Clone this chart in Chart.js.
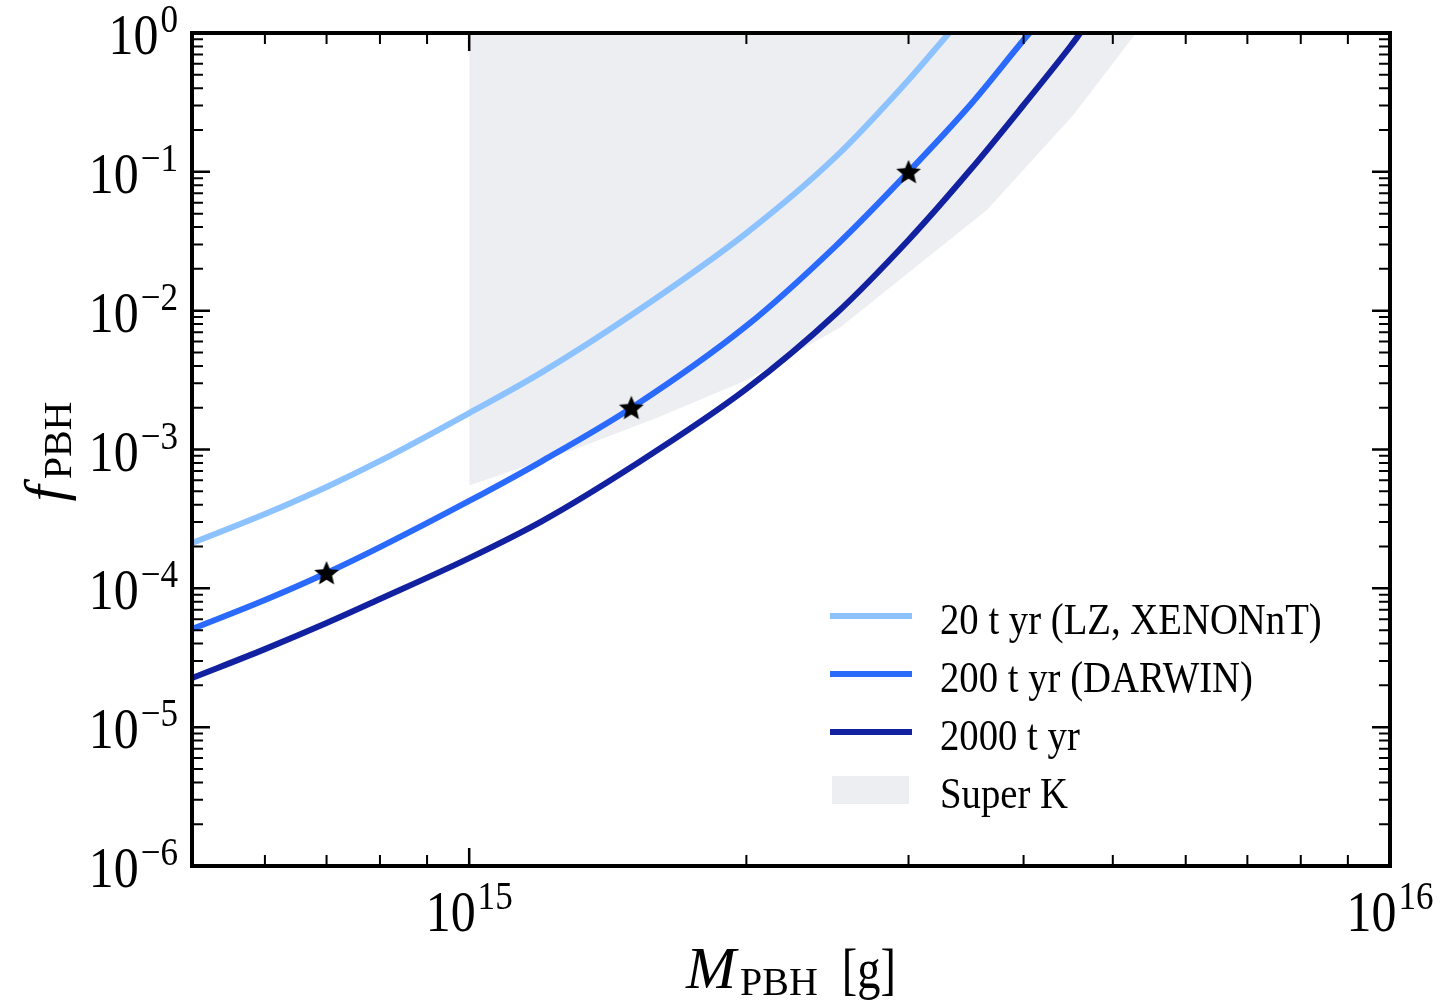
<!DOCTYPE html>
<html>
<head>
<meta charset="utf-8">
<script src="https://cdn.jsdelivr.net/npm/chart.js@4"></script>
<style>
  html, body { margin: 0; padding: 0; background: #fff; }
  canvas { display: block; }
</style>
</head>
<body>
<canvas id="chart" width="1444" height="1006"></canvas>
<script>
// PBH mass [g] and f_PBH reach for each exposure
const massLZ = [5e14, 6e14, 7e14, 8e14, 1e15, 1.2e15, 1.5e15, 2e15, 2.5e15, 3e15, 3.32e15];
const fLZ = [2.12e-4, 3.43e-4, 5.37e-4, 8.27e-4, 1.83e-3, 3.61e-3, 9.3e-3, 3.62e-2, 0.128, 0.459, 1.0];

const massDarwin = [5e14, 6e14, 7e14, 8e14, 1e15, 1.2e15, 1.5e15, 2e15, 2.5e15, 3e15, 3.5e15, 4e15, 4.06e15];
const fDarwin = [5.09e-5, 8.24e-5, 1.29e-4, 1.98e-4, 4.26e-4, 8.26e-4, 1.99e-3, 7.76e-3, 2.92e-2, 0.1, 0.303, 0.89, 1.0];

const mass2000 = [5e14, 6e14, 7e14, 8e14, 1e15, 1.2e15, 1.5e15, 2e15, 2.5e15, 3e15, 3.5e15, 4e15, 4.5e15, 4.61e15];
const f2000 = [2.26e-5, 3.65e-5, 5.62e-5, 8.37e-5, 1.65e-4, 3.05e-4, 7.48e-4, 2.73e-3, 9.46e-3, 3.23e-2, 0.103, 0.303, 0.806, 1.0];

// Super K excluded region (lower edge, filled up to f = 1)
const massSK = [1e15, 1.3e15, 1.6e15, 2e15, 2.53e15, 3.19e15, 3.65e15, 4.53e15, 5.3e15];
const fSK = [5.5e-4, 1.0e-3, 1.69e-3, 3.16e-3, 7.6e-3, 0.026, 0.053, 0.257, 1.0];

// benchmark points
const starMass = [7e14, 1.5e15, 3e15];
const starF = [1.29e-4, 2.0e-3, 0.1];

const seriesLabels = ['20 t yr (LZ, XENONnT)', '200 t yr (DARWIN)', '2000 t yr', 'Super K'];

const FONT = '"Liberation Serif", "Times New Roman", serif';
const colors = { lz: '#8cc2ff', darwin: '#2a6aff', big: '#1121a0', sk: '#edeef2' };

function pts(xs, ys) {
  return xs.map((x, i) => ({ x: x, y: ys[i] }));
}

// filled five point star used as point marker
function makeStar(r) {
  const c = document.createElement('canvas');
  c.width = c.height = Math.ceil(r * 2 + 4);
  const g = c.getContext('2d');
  const cx = c.width / 2, cy = c.height / 2 + 1;
  g.beginPath();
  for (let i = 0; i < 10; i++) {
    const rad = i % 2 === 0 ? r : r * 0.45;
    const a = -Math.PI / 2 + i * Math.PI / 5;
    const px = cx + rad * Math.cos(a), py = cy + rad * Math.sin(a);
    if (i === 0) g.moveTo(px, py); else g.lineTo(px, py);
  }
  g.closePath();
  g.fillStyle = '#000';
  g.fill();
  return c;
}

function logTicks(min, max) {
  const out = [];
  for (let e = Math.floor(Math.log10(min)); e <= Math.ceil(Math.log10(max)); e++) {
    for (let m = 1; m < 10; m++) {
      const v = m * Math.pow(10, e);
      if (v >= min * 0.999 && v <= max * 1.001) out.push({ v: v, major: m === 1, e: e });
    }
  }
  return out;
}

// "10" with a raised exponent
function drawPow(ctx, x, base, e, align) {
  const sup = e < 0 ? '\u2212' + (-e) : String(e);
  ctx.font = '58px ' + FONT;
  const wb = ctx.measureText('10').width * 0.86;
  ctx.font = '39px ' + FONT;
  const ws = ctx.measureText(sup).width * 0.9;
  const total = wb + 2 + ws;
  const left = align === 'right' ? x - total : x - total / 2;
  ctx.save();
  ctx.translate(left, base);
  ctx.scale(0.86, 1);
  ctx.font = '58px ' + FONT;
  ctx.fillText('10', 0, 0);
  ctx.restore();
  ctx.save();
  ctx.translate(left + wb + 2, base - 22);
  ctx.scale(0.9, 1);
  ctx.font = '39px ' + FONT;
  ctx.fillText(sup, 0, 0);
  ctx.restore();
}

const frame = {
  id: 'frame',
  afterDraw(chart) {
    const ctx = chart.ctx;
    const a = chart.chartArea;
    const xs = chart.scales.x, ys = chart.scales.y;
    ctx.save();
    ctx.strokeStyle = '#000';
    ctx.fillStyle = '#000';
    ctx.textAlign = 'left';
    ctx.textBaseline = 'alphabetic';

    // x ticks, bottom and top, pointing in
    logTicks(xs.min, xs.max).forEach(t => {
      const px = xs.getPixelForValue(t.v);
      const len = t.major ? 18 : 11;
      ctx.lineWidth = t.major ? 2.5 : 2;
      ctx.beginPath();
      ctx.moveTo(px, a.bottom); ctx.lineTo(px, a.bottom - len);
      ctx.moveTo(px, a.top); ctx.lineTo(px, a.top + len);
      ctx.stroke();
      if (t.major) drawPow(ctx, px, a.bottom + 65, t.e, 'center');
    });

    // y ticks, left and right
    logTicks(ys.min, ys.max).forEach(t => {
      const py = ys.getPixelForValue(t.v);
      const len = t.major ? 18 : 11;
      ctx.lineWidth = t.major ? 2.5 : 2;
      ctx.beginPath();
      ctx.moveTo(a.left, py); ctx.lineTo(a.left + len, py);
      ctx.moveTo(a.right, py); ctx.lineTo(a.right - len, py);
      ctx.stroke();
      if (t.major) drawPow(ctx, a.left - 14, py + 21, t.e, 'right');
    });

    ctx.lineWidth = 4;
    ctx.strokeRect(a.left, a.top, a.right - a.left, a.bottom - a.top);

    // x title: M_PBH [g]
    ctx.font = 'italic 60px ' + FONT;
    const wM = ctx.measureText('M').width;
    ctx.font = '40px ' + FONT;
    const wP = ctx.measureText('PBH').width;
    ctx.font = '58px ' + FONT;
    const wG = ctx.measureText('[g]').width * 0.8;
    const xc = (a.left + a.right) / 2;
    let x0 = xc - (wM + 4 + wP + 24 + wG) / 2;
    const xb = a.bottom + 122;
    ctx.font = 'italic 60px ' + FONT;
    ctx.fillText('M', x0, xb);
    ctx.font = '40px ' + FONT;
    ctx.fillText('PBH', x0 + wM + 4, xb + 7);
    ctx.save();
    ctx.translate(x0 + wM + 4 + wP + 24, xb);
    ctx.scale(0.8, 1);
    ctx.font = '58px ' + FONT;
    ctx.fillText('[g]', 0, 0);
    ctx.restore();

    // y title: f_PBH, rotated
    ctx.save();
    ctx.translate(64, (a.top + a.bottom) / 2 + 2);
    ctx.rotate(-Math.PI / 2);
    ctx.font = 'italic 58px ' + FONT;
    const wf = ctx.measureText('f').width;
    ctx.font = '40px ' + FONT;
    const wp = ctx.measureText('PBH').width;
    const y0 = -(wf + 6 + wp) / 2;
    ctx.font = 'italic 58px ' + FONT;
    ctx.fillText('f', y0, 0);
    ctx.font = '40px ' + FONT;
    ctx.fillText('PBH', y0 + wf + 6, 7);
    ctx.restore();
    ctx.restore();
  }
};

const legendBox = {
  id: 'legendBox',
  afterDraw(chart) {
    const ctx = chart.ctx;
    const a = chart.chartArea;
    const hx = a.right - 560;
    const tx = a.right - 450;
    const rows = [a.bottom - 250, a.bottom - 192, a.bottom - 134, a.bottom - 76];
    ctx.save();
    chart.data.datasets.filter(d => d.inLegend).forEach((d, i) => {
      const ry = rows[i];
      if (d.fill) {
        ctx.fillStyle = d.backgroundColor;
        ctx.fillRect(hx + 2, ry - 14, 77, 28);
      } else {
        ctx.strokeStyle = d.borderColor;
        ctx.lineWidth = 6;
        ctx.beginPath();
        ctx.moveTo(hx, ry); ctx.lineTo(hx + 82, ry);
        ctx.stroke();
      }
      ctx.save();
      ctx.translate(tx, ry + 18);
      ctx.scale(0.88, 1);
      ctx.fillStyle = '#000';
      ctx.font = '44px ' + FONT;
      ctx.textAlign = 'left';
      ctx.textBaseline = 'alphabetic';
      ctx.fillText(d.label, 0, 0);
      ctx.restore();
    });
    ctx.restore();
  }
};

const ctx = document.getElementById('chart').getContext('2d');
new Chart(ctx, {
  type: 'line',
  data: {
    datasets: [
      {
        label: seriesLabels[0], data: pts(massLZ, fLZ), inLegend: true,
        borderColor: colors.lz, borderWidth: 6, pointRadius: 0,
        cubicInterpolationMode: 'monotone', fill: false, order: 3
      },
      {
        label: seriesLabels[1], data: pts(massDarwin, fDarwin), inLegend: true,
        borderColor: colors.darwin, borderWidth: 6, pointRadius: 0,
        cubicInterpolationMode: 'monotone', fill: false, order: 2
      },
      {
        label: seriesLabels[2], data: pts(mass2000, f2000), inLegend: true,
        borderColor: colors.big, borderWidth: 6, pointRadius: 0,
        cubicInterpolationMode: 'monotone', fill: false, order: 1
      },
      {
        label: seriesLabels[3], data: pts(massSK, fSK), inLegend: true,
        backgroundColor: colors.sk, borderWidth: 0, pointRadius: 0,
        tension: 0, fill: 'end', order: 10
      },
      {
        label: 'benchmarks', data: pts(starMass, starF),
        showLine: false, pointStyle: makeStar(13), pointRadius: 13,
        order: 0
      }
    ]
  },
  options: {
    responsive: false,
    animation: false,
    devicePixelRatio: 1,
    layout: { padding: { left: 192, right: 54, top: 33, bottom: 140 } },
    scales: {
      x: { type: 'logarithmic', min: 5e14, max: 1e16, display: false },
      y: { type: 'logarithmic', min: 1e-6, max: 1, display: false }
    },
    plugins: {
      legend: { display: false },
      tooltip: { enabled: false }
    }
  },
  plugins: [frame, legendBox]
});
</script>
</body>
</html>
